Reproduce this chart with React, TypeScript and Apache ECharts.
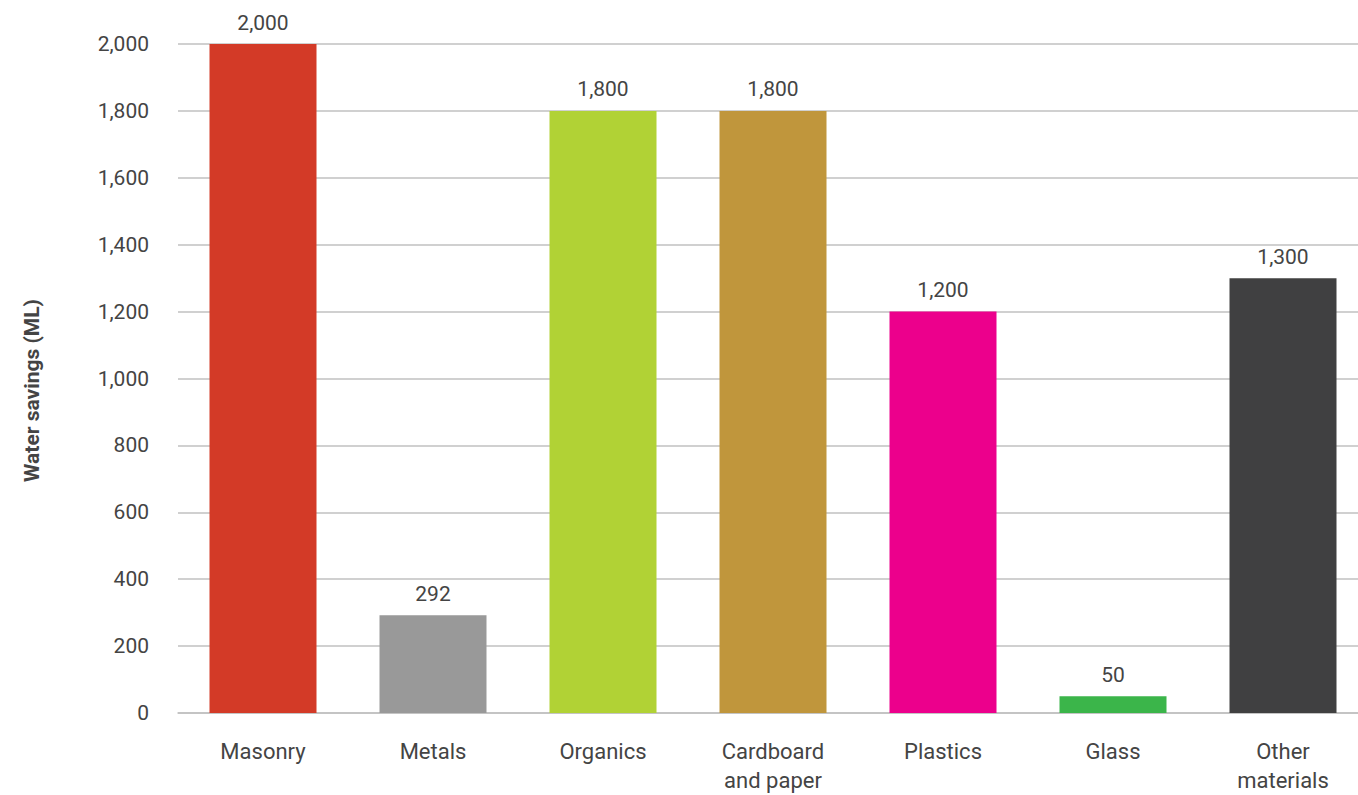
import React, { useEffect, useRef } from "react";
import * as echarts from "echarts";

const categories = ["Masonry", "Metals", "Organics", "Cardboard\nand paper", "Plastics", "Glass", "Other\nmaterials"];
const values = [2000, 292, 1800, 1800, 1200, 50, 1300];
const colors = ["#d33a27", "#999999", "#b1d235", "#c0963c", "#ec008c", "#3bb54a", "#404041"];
const yTicks = [0, 200, 400, 600, 800, 1000, 1200, 1400, 1600, 1800, 2000];

const FONT = "Roboto, 'Open Sans', sans-serif";
const fmt = (v: number) => v.toLocaleString("en-US");

export default function App() {
  const ref = useRef<HTMLDivElement>(null);
  useEffect(() => {
    if (!ref.current) return;
    const chart = echarts.init(ref.current, undefined, { renderer: "svg" });
    chart.setOption({
      animation: false,
      textStyle: { fontFamily: FONT },
      grid: { left: 178, right: 12, top: 44, bottom: 81, containLabel: false },
      xAxis: {
        type: "category",
        data: categories,
        axisLine: { lineStyle: { color: "#c0c0c0", width: 1.5 } },
        axisTick: { show: false },
        axisLabel: { color: "#444", fontSize: 22, lineHeight: 29, margin: 24, fontFamily: FONT, interval: 0 },
      },
      yAxis: {
        type: "value",
        min: yTicks[0],
        max: yTicks[yTicks.length - 1],
        interval: 200,
        name: "Water savings (ML)",
        nameLocation: "middle",
        nameGap: 136,
        nameTextStyle: { color: "#444", fontSize: 21, fontWeight: "bold", fontFamily: FONT, padding: [0, 24, 0, 0] },
        axisLine: { show: false },
        axisTick: { show: false },
        splitLine: { lineStyle: { color: "#c0c0c0", width: 1.5 } },
        axisLabel: { color: "#444", fontSize: 21, margin: 29, fontFamily: FONT, formatter: (v: number) => fmt(v) },
      },
      series: [
        {
          type: "bar",
          barWidth: 107,
          data: values.map((v, i) => ({ value: v, itemStyle: { color: colors[i] } })),
          label: {
            show: true,
            position: "top",
            distance: 11,
            color: "#444",
            fontSize: 21,
            fontFamily: FONT,
            formatter: (p: any) => fmt(p.value),
          },
        },
      ],
    });
    return () => chart.dispose();
  }, []);
  return (
    <div style={{ position: "fixed", left: 0, top: 0, width: 1358, height: 795, overflow: "hidden", background: "#fff" }}>
      <div ref={ref} style={{ width: 1380, height: 795 }} />
    </div>
  );
}
